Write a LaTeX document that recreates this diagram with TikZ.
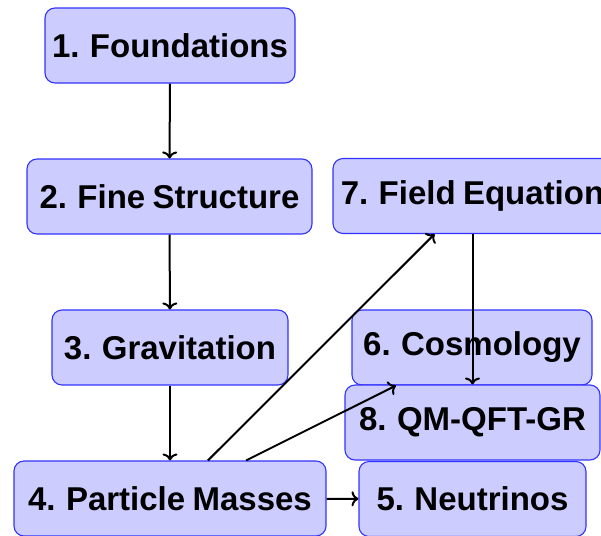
\documentclass[tikz,border=0pt]{standalone}
\usepackage{fontspec}
\setmainfont{Liberation Sans}[WordSpace=0.8]
\usetikzlibrary{arrows.meta}
\definecolor{boxfill}{HTML}{CCCCFF}
\definecolor{boxdraw}{HTML}{3333FF}
\tikzset{
  box/.style={draw=boxdraw, fill=boxfill, line width=1.1pt, rounded corners=10pt,
    minimum height=75pt, inner sep=0pt, text=black,
    font=\fontsize{33}{39}\selectfont\bfseries},
  conn/.style={draw=black, line width=2pt, -{To[length=7pt,width=15pt]}}
}
\begin{document}
\begin{tikzpicture}[x=1pt,y=-1pt]
\useasboundingbox (0,0) rectangle (601,535);
\clip (0,0) rectangle (601,535);
\node[box, minimum width=250pt] (n1) at (170,45.5) {1. Foundations};
\node[box, minimum width=285pt] (n2) at (169.5,196.5) {2. Fine Structure};
\node[box, minimum width=236pt] (n3) at (170,347.5) {3. Gravitation};
\node[box, minimum width=312pt] (n4) at (170,498.5) {4. Particle Masses};
\node[box, minimum width=227pt] (n5) at (472.5,499) {5. Neutrinos};
\node[box, minimum width=240pt] (n6) at (472,347.5) {6. Cosmology};
\node[box, minimum width=279pt] (n7) at (472.5,196) {7. Field Equation};
\node[box, minimum width=255pt] (n8) at (472.5,422.5) {8. QM-QFT-GR};
\draw[conn] (n1) -- (n2);
\draw[conn] (n2) -- (n3);
\draw[conn] (n3) -- (n4);
\draw[conn] (n4) -- (n5);
\draw[conn] (n4) -- (n7);
\draw[conn] (n4) -- (n6);
\draw[conn] (n7) -- (n8);
\end{tikzpicture}
\end{document}
